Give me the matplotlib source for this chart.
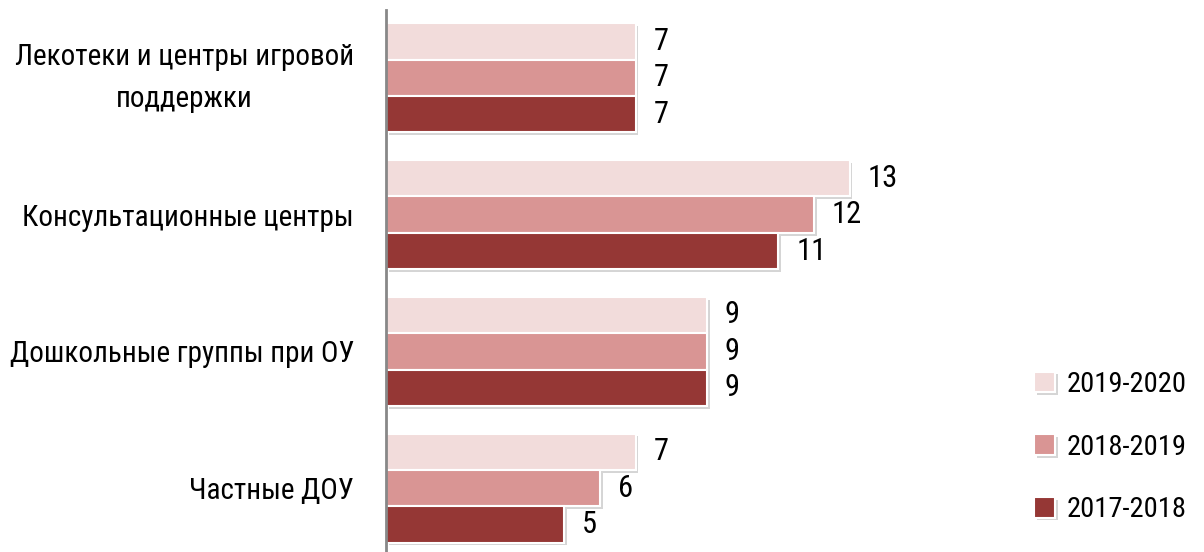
import matplotlib
matplotlib.use("Agg")
import matplotlib.pyplot as plt
from matplotlib import font_manager as fm
from matplotlib.ft2font import FT2Font
import matplotlib.patheffects as pe
import numpy as np

categories = ["Лекотеки и центры игровой\nподдержки", "Консультационные центры",
              "Дошкольные группы при ОУ", "Частные ДОУ"]
series_names = ["2019-2020", "2018-2019", "2017-2018"]
values_2019_2020 = [7, 13, 9, 7]
values_2018_2019 = [7, 12, 9, 6]
values_2017_2018 = [7, 11, 9, 5]
colors = ["#F2DCDB", "#D99594", "#953735"]


def has_cyr(path):
    try:
        f = FT2Font(path)
        return all(f.get_char_index(ord(ch)) != 0 for ch in "ДКЛжы")
    except Exception:
        return False


def is_regular(f):
    return f.style == "normal" and f.weight in (400, "normal", "regular", "book")


cands = [f for f in fm.fontManager.ttflist if is_regular(f)
         and ("Narrow" in f.name or "Condensed" in f.name or f.stretch in ("condensed", "semi-condensed"))
         and has_cyr(f.fname)]
pref = ["Roboto Condensed", "Liberation Sans Narrow", "Open Sans Condensed", "Noto Sans Condensed"]
cond = None
for p in pref:
    for f in cands:
        if f.name == p:
            cond = f
            break
    if cond:
        break
if cond is None:
    for f in cands:
        if f.name != "DejaVu Sans" and "Mono" not in f.name and "Serif" not in f.name:
            cond = f
            break
if cond is None:
    for f in cands:
        if f.name == "DejaVu Sans":
            cond = f
            break

if cond is not None:
    fp_file = cond.fname
else:
    fp_file = fm.findfont("DejaVu Sans")


def FP(size):
    return fm.FontProperties(fname=fp_file, size=size)


fig = plt.figure(figsize=(12.04, 5.52), dpi=100)
ax = fig.add_axes([386/1204, -4.5/552, (1000-386)/1204, 547/552])

series = [values_2019_2020, values_2018_2019, values_2017_2018]
n = len(categories)
y = np.arange(n)
bh = 0.266
shadow = [pe.SimplePatchShadow(offset=(2, -2), shadow_rgbFace="#888888", alpha=0.35), pe.Normal()]
for i, (vals, c) in enumerate(zip(series, colors)):
    pos = y + (i - 1) * bh
    bars = ax.barh(pos, vals, height=bh, color=c, edgecolor="white", linewidth=1.5,
                   label=series_names[i], zorder=2)
    for b in bars:
        b.set_path_effects(shadow)
    for p, v in zip(pos, vals):
        ax.text(v + 0.5, p, str(v), va="center", ha="left", fontproperties=FP(22),
                color="black")

ax.set_ylim(n - 0.5, -0.5)
ax.set_xlim(0, (1000-386)/35.67)
ax.set_yticks(y)
ax.set_yticklabels(categories, fontproperties=FP(21), ha="right", multialignment="center",
                   linespacing=1.65)
for lab in ax.get_yticklabels():
    if "\n" in lab.get_text():
        lab.set_va("center")
ax.tick_params(axis="y", length=0, pad=23)
ax.set_xticks([])
for s in ["top", "right", "bottom"]:
    ax.spines[s].set_visible(False)
ax.spines["left"].set_color("#888888")
ax.spines["left"].set_linewidth(2)
ax.spines["left"].set_zorder(3)

leg = fig.legend(loc="upper left", bbox_to_anchor=(1034/1204, 1 - 371/552), frameon=False,
                 prop=FP(20.5), borderpad=0, borderaxespad=0,
                 handlelength=0.75, handleheight=0.75, labelspacing=1.25, handletextpad=0.4)

fig.savefig("out.png", dpi=100)
